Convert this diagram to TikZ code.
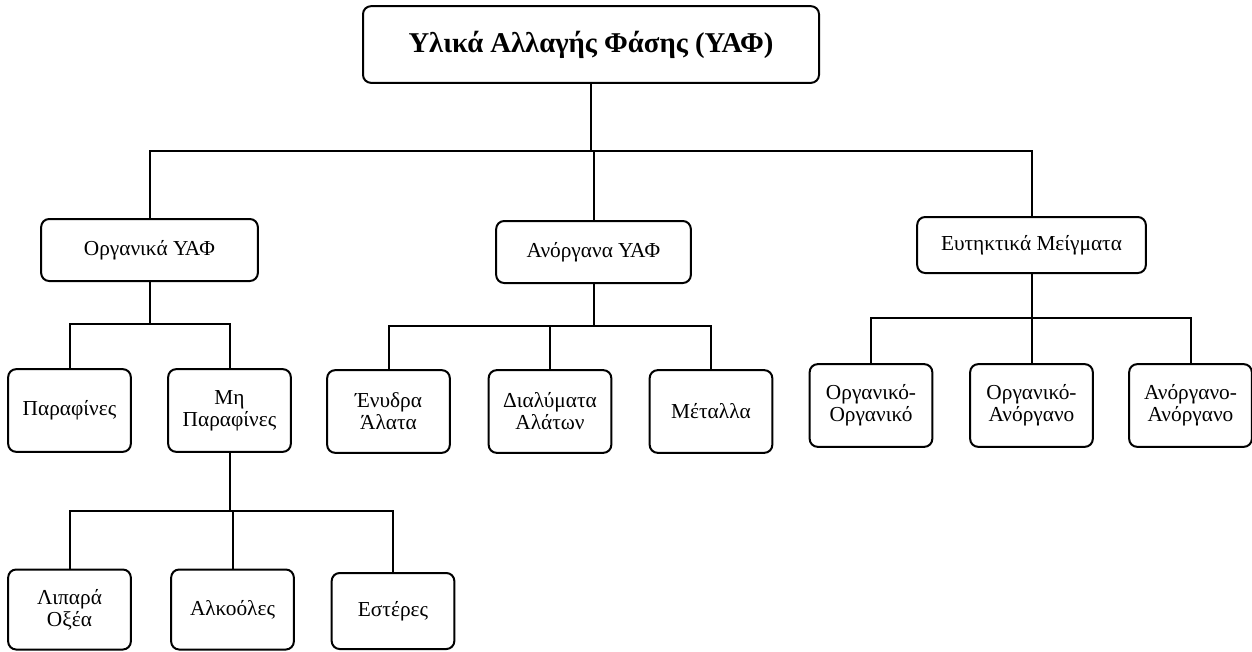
\documentclass[tikz,border=0pt]{standalone}
\usepackage{fontspec}
\setmainfont{Liberation Serif}
\usetikzlibrary{positioning}

\begin{document}
\begin{tikzpicture}[x=0.75pt, y=-0.75pt,
  box/.style={draw, line width=1.5pt, rounded corners=6pt, align=center, inner sep=2pt,
    font=\fontsize{16}{16.5}\selectfont},
  leaf/.style={box, minimum width=92pt, minimum height=62pt},
  wire/.style={line width=1.5pt}]
  \useasboundingbox (0,0) rectangle (1252,651);

  \node[box, minimum width=342pt, minimum height=57.5pt, font=\fontsize{21.5}{24}\selectfont\bfseries] (phm) at (591,44.5) {Υλικά Αλλαγής Φάσης (ΥΑΦ)};

  \node[box, minimum width=162.5pt, minimum height=46.5pt] (org) at (149.5,250) {Οργανικά ΥΑΦ};
  \node[box, minimum width=146pt, minimum height=46.5pt] (inorg) at (593.5,252) {Ανόργανα ΥΑΦ};
  \node[box, minimum width=171.5pt, minimum height=42pt] (eut) at (1031.5,245) {Ευτηκτικά Μείγματα};

  \node[leaf] (par) at (69.5,410.5) {Παραφίνες};
  \node[leaf] (nonpar) at (229.5,410.5) {Μη\\Παραφίνες};
  \node[leaf] (hydr) at (388.5,411.5) {Ένυδρα\\Άλατα};
  \node[leaf] (sol) at (550,411.5) {Διαλύματα\\Αλάτων};
  \node[leaf] (met) at (711,411.5) {Μέταλλα};
  \node[leaf] (oo) at (871,405.5) {Οργανικό-\\Οργανικό};
  \node[leaf] (oi) at (1031.5,405.5) {Οργανικό-\\Ανόργανο};
  \node[leaf] (ii) at (1190.5,405.5) {Ανόργανο-\\Ανόργανο};

  \node[leaf, minimum height=60pt] (fat) at (69.5,609.5) {Λιπαρά\\Οξέα};
  \node[leaf, minimum height=60pt] (alc) at (232.5,609.5) {Αλκοόλες};
  \node[leaf, minimum height=57pt] (est) at (393,611) {Εστέρες};

  \coordinate (bus0) at (0,151);
  \coordinate (bus1) at (0,324);
  \coordinate (bus2) at (0,326);
  \coordinate (bus3) at (0,318);
  \coordinate (bus4) at (0,511);

  \foreach \kid in {org,inorg,eut}
    \draw[wire] (phm.south) -- (phm.south |- bus0) -| (\kid.north);
  \foreach \kid in {par,nonpar}
    \draw[wire] (org.south) -- (org.south |- bus1) -| (\kid.north);
  \foreach \kid in {hydr,sol,met}
    \draw[wire] (inorg.south) -- (inorg.south |- bus2) -| (\kid.north);
  \foreach \kid in {oo,oi,ii}
    \draw[wire] (eut.south) -- (eut.south |- bus3) -| (\kid.north);
  \foreach \kid in {fat,alc,est}
    \draw[wire] (nonpar.south) -- (nonpar.south |- bus4) -| (\kid.north);
\end{tikzpicture}
\end{document}
